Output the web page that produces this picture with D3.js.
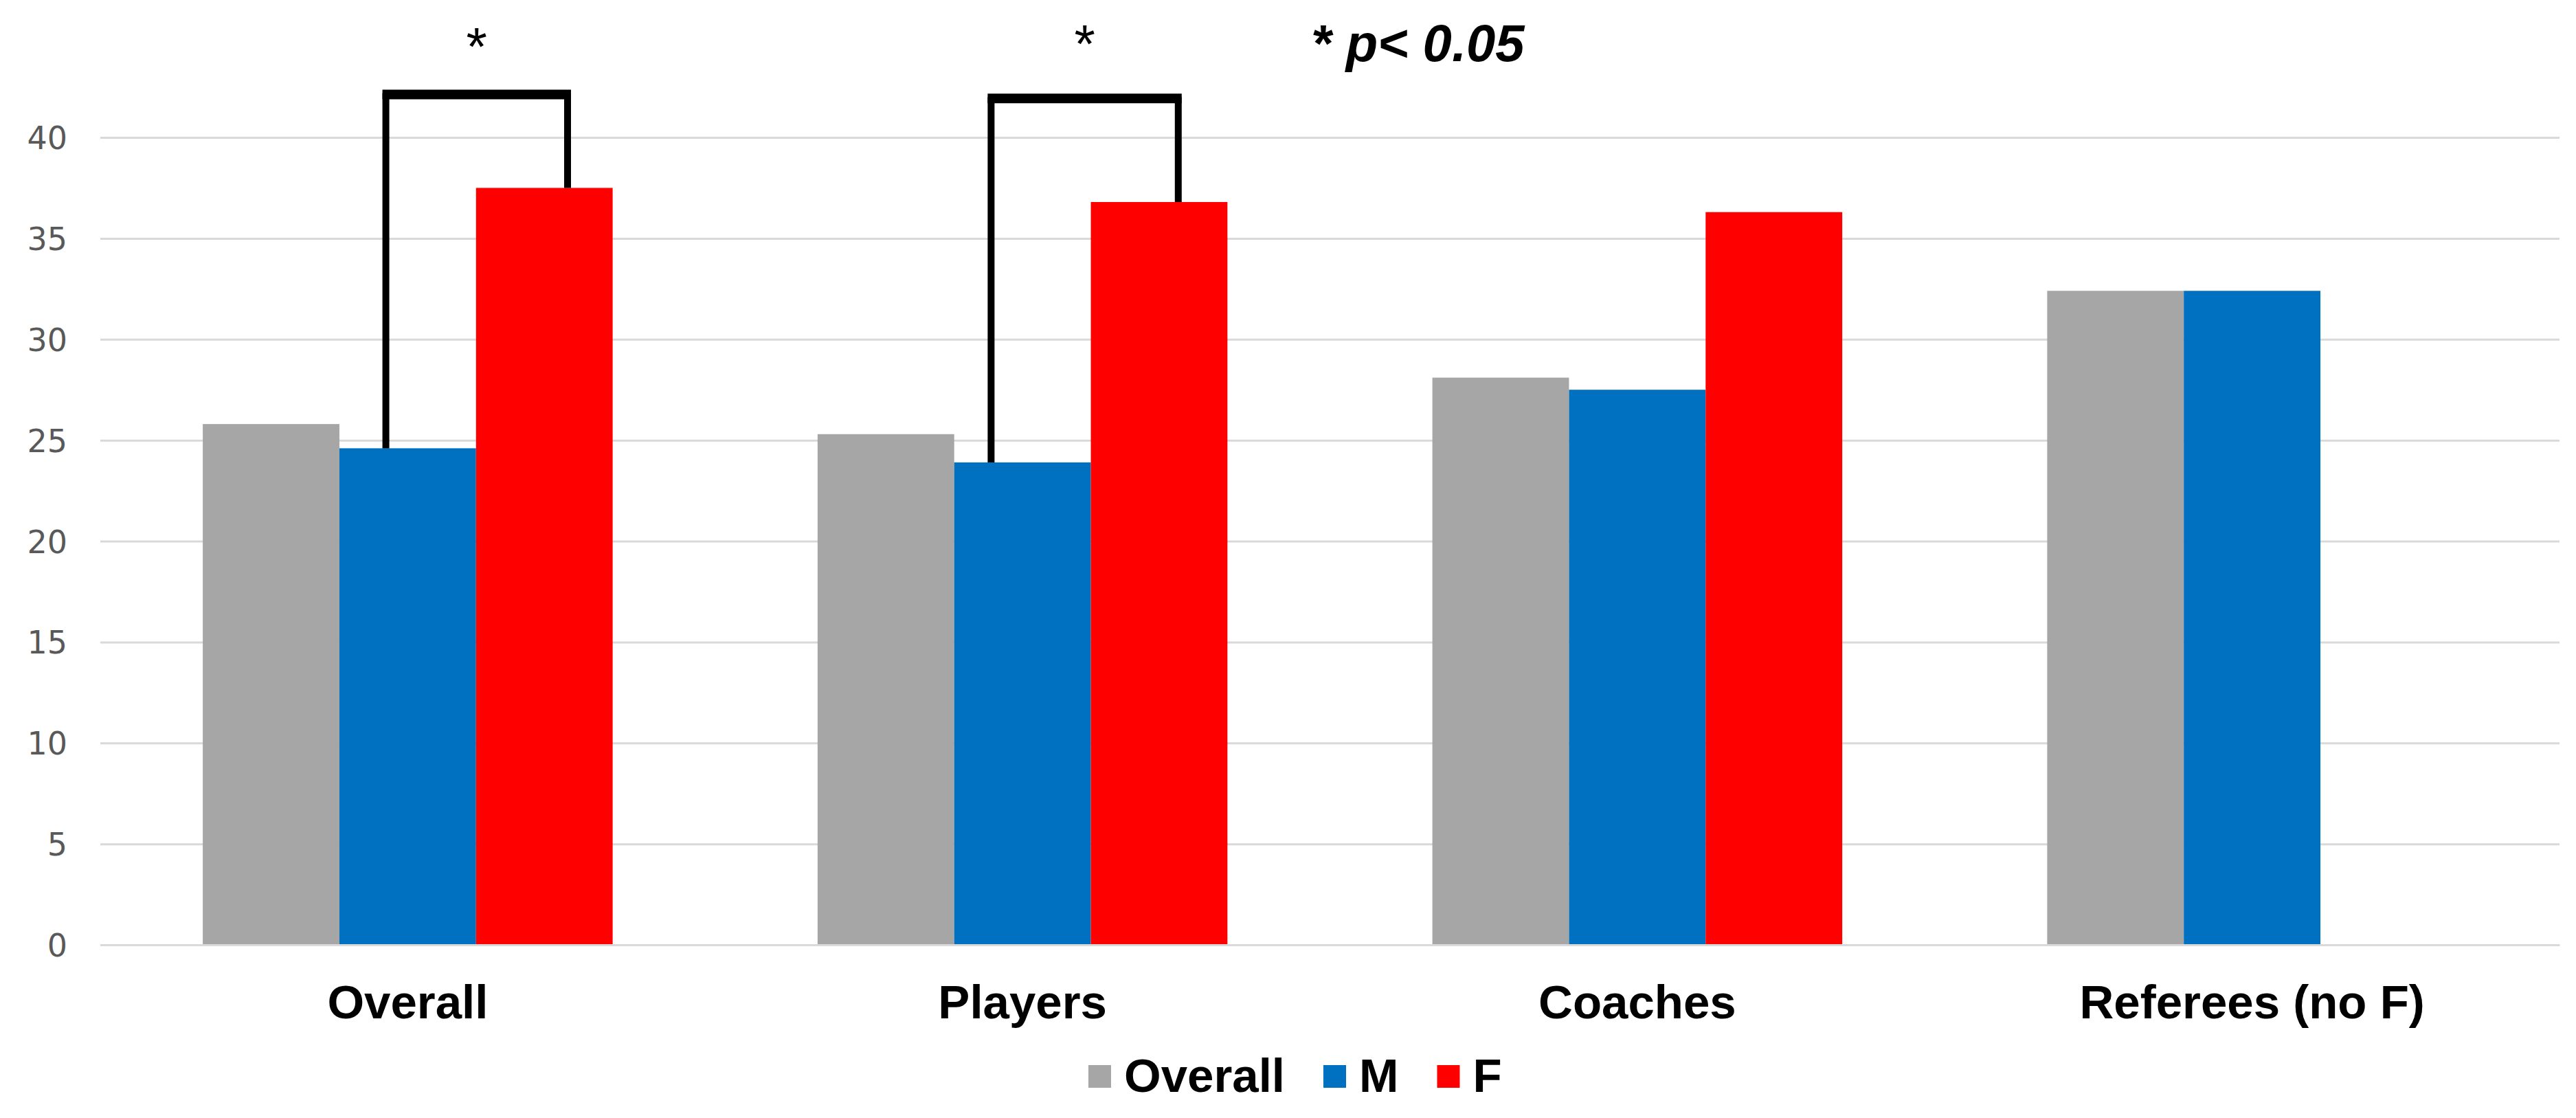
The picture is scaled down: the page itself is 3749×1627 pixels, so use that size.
<!DOCTYPE html>
<html><head><meta charset="utf-8">
<script src="https://cdn.jsdelivr.net/npm/d3@7"></script>
<style>html,body{margin:0;padding:0;background:#fff;}svg{display:block;}</style>
</head><body>
<svg id="chart" width="3749" height="1627"></svg>
<script>
const categories = ["Overall", "Players", "Coaches", "Referees (no F)"];
const seriesNames = ["Overall", "M", "F"];
const seriesColors = ["#a6a6a6", "#0070c0", "#ff0000"];
const overallValues = [25.8, 25.3, 28.1, 32.4];
const mValues = [24.6, 23.9, 27.5, 32.4];
const fValues = [37.5, 36.8, 36.3, null];
const yTicks = [0, 5, 10, 15, 20, 25, 30, 35, 40];
// significance brackets: category, from series, to series, bracket top value
const brackets = [
  {cat: "Overall", from: "M", to: "F", top: 42.2, l: 0.34, r: 0.67, starDy: 0},
  {cat: "Players", from: "M", to: "F", top: 42.0, l: 0.27, r: 0.64, starDy: -10}
];
const noteText = "* p< 0.05";

const seriesValues = [overallValues, mValues, fValues];
const svg = d3.select("#chart");
const left = 146, right = 3725, yBottom = 1375, yTop = 200;

const x = d3.scaleBand().domain(categories).range([left, right]).paddingInner(0).paddingOuter(0);
const xs = d3.scaleBand().domain(seriesNames).range([0, x.bandwidth()]).paddingInner(0).paddingOuter(0.75);
const y = d3.scaleLinear().domain([0, 40]).range([yBottom, yTop]);

// gridlines
const yAxis = d3.axisLeft(y).tickValues(yTicks).tickSize(-(right - left)).tickPadding(48).tickFormat(d3.format("d"));
const gy = svg.append("g").attr("transform", `translate(${left},0)`).call(yAxis);
gy.select(".domain").remove();
gy.selectAll(".tick line").attr("stroke", "#d9d9d9").attr("stroke-width", 3);
gy.selectAll(".tick text").attr("fill", "#595959").attr("font-family", "DejaVu Sans, Verdana, sans-serif")
  .attr("font-size", 46).attr("dy", "0.36em");

// bars
const data = [];
categories.forEach((c, i) => seriesNames.forEach((s, j) => {
  const v = seriesValues[j][i];
  if (v !== null && v !== undefined) data.push({c, s, v, color: seriesColors[j]});
}));
svg.append("g").selectAll("rect").data(data).join("rect")
  .attr("x", d => x(d.c) + xs(d.s))
  .attr("width", xs.bandwidth())
  .attr("y", d => y(d.v))
  .attr("height", d => y(0) - y(d.v))
  .attr("fill", d => d.color);

// category axis
const xAxis = d3.axisBottom(x).tickSize(0).tickPadding(58);
const gx = svg.append("g").attr("transform", `translate(0,${yBottom})`).call(xAxis);
gx.select(".domain").attr("stroke", "#d9d9d9").attr("stroke-width", 3);
gx.selectAll(".tick text").attr("fill", "#000").attr("font-family", "Liberation Sans, Arial, sans-serif")
  .attr("font-weight", "bold").attr("font-size", 69).attr("dy", "0.71em");

// brackets
const valOf = (cat, s) => seriesValues[seriesNames.indexOf(s)][categories.indexOf(cat)];
const bg = svg.append("g");
brackets.forEach(b => {
  const bw = xs.bandwidth();
  const xl = x(b.cat) + xs(b.from) + b.l * bw;
  const xr = x(b.cat) + xs(b.to) + b.r * bw;
  const yt = y(b.top);
  bg.append("line").attr("x1", xl).attr("x2", xl).attr("y1", yt).attr("y2", y(valOf(b.cat, b.from)))
    .attr("stroke", "#000").attr("stroke-width", 10);
  bg.append("line").attr("x1", xr).attr("x2", xr).attr("y1", yt).attr("y2", y(valOf(b.cat, b.to)))
    .attr("stroke", "#000").attr("stroke-width", 10);
  bg.append("line").attr("x1", xl - 5).attr("x2", xr + 5).attr("y1", yt + 2).attr("y2", yt + 2)
    .attr("stroke", "#000").attr("stroke-width", 14);
  bg.append("text").attr("x", (xl + xr) / 2).attr("y", yt - 40 + b.starDy).attr("text-anchor", "middle")
    .attr("font-family", "Liberation Sans, Arial, sans-serif").attr("font-size", 78).attr("fill", "#000").text("*");
});

// p-value note
svg.append("text").attr("x", 1908).attr("y", 89)
  .attr("font-family", "Liberation Sans, Arial, sans-serif").attr("font-weight", "bold").attr("font-style", "italic")
  .attr("font-size", 76).attr("fill", "#000").text(noteText);

// legend
const lg = svg.append("g");
let lx = 1584;
seriesNames.forEach((s, i) => {
  lg.append("rect").attr("x", lx).attr("y", 1550).attr("width", 33).attr("height", 33).attr("fill", seriesColors[i]);
  const t = lg.append("text").attr("x", lx + 52).attr("y", 1589)
    .attr("font-family", "Liberation Sans, Arial, sans-serif").attr("font-weight", "bold")
    .attr("font-size", 69).attr("fill", "#000").text(s);
  lx += 52 + t.node().getComputedTextLength() + 56;
});
</script>
</body></html>
